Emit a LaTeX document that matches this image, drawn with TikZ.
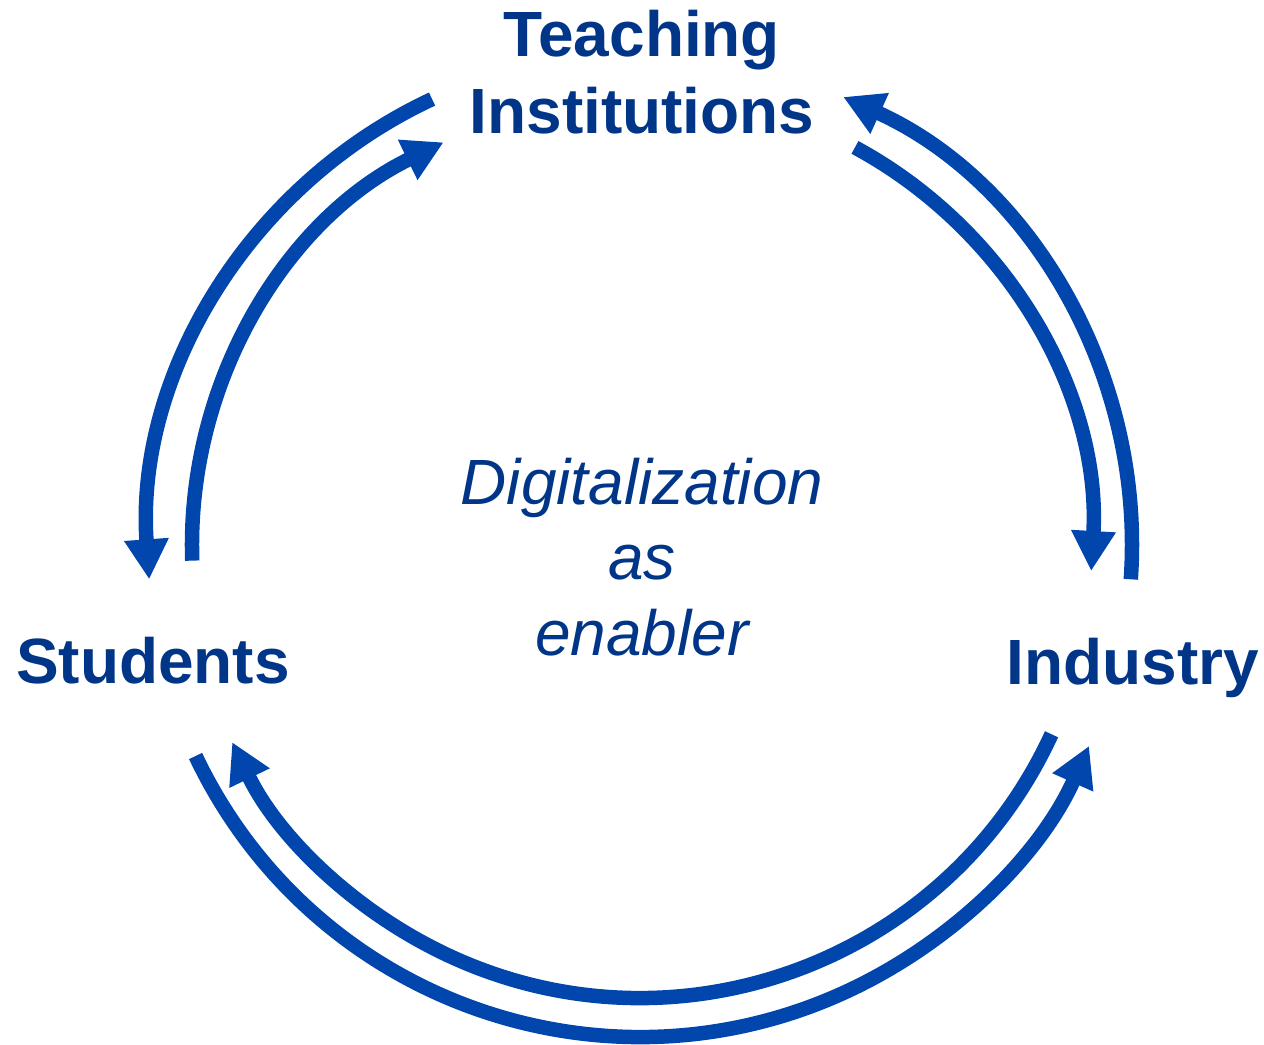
\documentclass[tikz,border=0pt]{standalone}
\usepackage{fontspec}
\setmainfont{Liberation Sans}
\usetikzlibrary{arrows.meta, positioning}
\definecolor{FlowBlue}{RGB}{0, 70, 173}
\definecolor{InkNavy}{RGB}{0, 53, 135}

\begin{document}
\begin{tikzpicture}[
    flow/.style={FlowBlue, line width=0.145cm, -{Triangle[length=0.40cm, width=0.42cm]}},
    actor/.style={font=\fontsize{18.2}{21.9}\selectfont\bfseries, text=InkNavy, inner sep=0pt, align=center},
    enabler/.style={font=\fontsize{18.2}{21.6}\selectfont\itshape, text=InkNavy, inner sep=0pt, align=center}
]
    \useasboundingbox (-6.40,-5.00) rectangle (6.24,5.45);
    \coordinate (centro) at (0,0);

    % Actores del ciclo
    \node[actor, anchor=north] (teaching) at (0.02,5.36) {Teaching\\Institutions};
    \node[actor, anchor=base] (students) at (-4.87,-1.39) {Students};
    \node[actor, anchor=base] (industry) at (4.93,-1.40) {Industry};

    % Texto central
    \node[enabler, anchor=north] (digital) at (0.02,0.88) {Digitalization\\as\\enabler};

    % Flechas circulares: radio/inicio/fin
    \foreach \rad/\ini/\fin in {4.92/115/184, 4.48/182/116, 4.92/-4/65.6,
                              4.52/61.6/-3.3, 4.92/205.4/335.9, 4.53/335.3/205.8}
        \draw[flow] ([shift={(\ini:\rad)}]centro) arc[start angle=\ini, end angle=\fin, radius=\rad];
\end{tikzpicture}
\end{document}
